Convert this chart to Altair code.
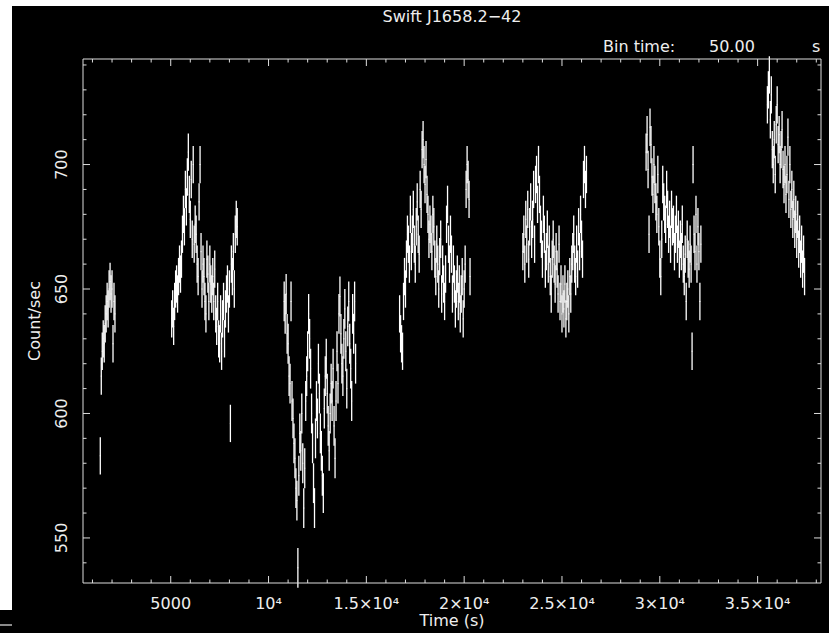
import altair as alt
import pandas as pd

BIN_TIME = 50
SEG_START = [1400, 5050, 10800, 16700, 23000, 29300, 35500]

SEG1 = [583, 615, 625, 630, 628, 636, 640, 645, 642, 650, 653, 648, 650, 628, 645, 640]
SEG2 = [638, 642, 635, 645, 650, 652, 648, 655, 660, 656, 662, 672, 680, 675, 690, 683, 695,
        705, 688, 678, 694, 670, 700, 668, 676, 672, 660, 655, 685, 700, 665, 650, 660, 655,
        645, 640, 662, 656, 645, 660, 652, 648, 655, 645, 658, 640, 635, 645, 630, 628, 640,
        625, 638, 645, 630, 642, 648, 652, 640, 650, 596, 660, 655, 665, 650, 672, 678, 675]
SEG3 = [645, 640, 648, 632, 628, 615, 612, 645, 605, 598, 588, 582, 570, 565, 538, 575, 592,
        585, 600, 580, 562, 578, 605, 615, 625, 640, 630, 618, 600, 588, 572, 562, 590, 605,
        598, 620, 608, 592, 585, 575, 568, 602, 615, 622, 608, 595, 585, 600, 612, 605, 618,
        595, 582, 605, 625, 612, 640, 647, 632, 620, 615, 630, 642, 625, 610, 635, 645, 628,
        618, 605, 640, 632, 645, 620]
SEG4 = [640, 632, 628, 625, 645, 655, 650, 662, 672, 668, 660, 680, 665, 672, 682, 668, 660,
        675, 685, 672, 664, 690, 682, 706, 710, 700, 692, 702, 688, 680, 670, 676, 672, 665,
        680, 675, 662, 655, 668, 660, 650, 663, 670, 648, 660, 652, 645, 656, 676, 684, 668,
        660, 672, 664, 648, 660, 652, 642, 650, 656, 645, 652, 640, 648, 655, 638, 650, 660,
        690, 700, 694, 686, 655]
SEG5 = [665, 672, 660, 678, 668, 682, 662, 675, 685, 670, 678, 690, 668, 692, 696, 684, 700,
        688, 676, 670, 662, 680, 672, 658, 665, 674, 660, 668, 655, 648, 662, 670, 660, 652,
        665, 658, 648, 668, 645, 652, 640, 648, 642, 652, 638, 645, 650, 640, 655, 648, 660,
        665, 672, 660, 655, 668, 658, 675, 665, 680, 670, 662, 694, 700, 690, 696]
SEG6 = [705, 712, 698, 672, 715, 708, 695, 688, 700, 692, 685, 680, 696, 675, 662, 655, 670,
        692, 685, 680, 676, 690, 682, 672, 678, 668, 682, 675, 676, 665, 672, 680, 668, 674,
        662, 670, 665, 676, 660, 655, 664, 645, 670, 662, 658, 668, 660, 625, 700, 672, 665,
        680, 660, 675, 665, 645, 668]
SEG7 = [724, 730, 736, 718, 728, 706, 700, 710, 696, 716, 724, 708, 712, 700, 706, 714, 698,
        692, 700, 688, 696, 711, 686, 700, 682, 690, 678, 686, 674, 680, 670, 678, 666, 672,
        662, 668, 658, 664, 655]
SEGMENTS = [SEG1, SEG2, SEG3, SEG4, SEG5, SEG6, SEG7]
SEG_ERR = [7.5, 7.5, 8.0, 7.5, 7.5, 7.5, 7.5]

X_MAJOR = [5000, 10000, 15000, 20000, 25000, 30000, 35000]
X_LABELS = ["5000", "10⁴", "1.5×10⁴", "2×10⁴", "2.5×10⁴", "3×10⁴", "3.5×10⁴"]
X_MINOR = [1000, 2000, 3000, 4000, 6000, 7000, 8000, 9000, 11000, 12000, 13000, 14000,
           16000, 17000, 18000, 19000, 21000, 22000, 23000, 24000, 26000, 27000, 28000,
           29000, 31000, 32000, 33000, 34000, 36000, 37000, 38000]
Y_MAJOR = [550, 600, 650, 700]
Y_LABELS = ["550", "600", "650", "700"]
Y_MINOR = [540, 560, 570, 580, 590, 610, 620, 630, 640, 660, 670, 680, 690, 710, 720, 730, 740]
X_DOMAIN = [516, 38240]
Y_DOMAIN = [531.9, 742.4]

TITLE = "Swift J1658.2\u221242"
X_TITLE = "Time (s)"
Y_TITLE = "Count/sec"

W, H = 738, 524
FONT = "DejaVu Sans"
FS = 16
TXT = "#eeeeee"
FRAME = "#dddddd"

rows = []
for start, vals, err in zip(SEG_START, SEGMENTS, SEG_ERR):
    for i, v in enumerate(vals):
        t = start + BIN_TIME * i
        rows.append({"t": t, "t0": t - BIN_TIME / 2, "t1": t + BIN_TIME / 2,
                     "v": v, "lo": v - err, "hi": v + err})
df = pd.DataFrame(rows)

xs = alt.Scale(domain=X_DOMAIN, nice=False, zero=False)
ys = alt.Scale(domain=Y_DOMAIN, nice=False, zero=False)

one = pd.DataFrame({"a": [0]})

# white page margin on the left and top of the screenshot, grey line bottom-left
wl = alt.Chart(one).mark_rect(color="white").encode(
    x=alt.value(-83), x2=alt.value(-71), y=alt.value(-59), y2=alt.value(551))
wt = alt.Chart(one).mark_rect(color="white").encode(
    x=alt.value(-83), x2=alt.value(W + 8), y=alt.value(-59), y2=alt.value(-53))
gl = alt.Chart(one).mark_rule(color="#8a8a8a", strokeWidth=2).encode(
    x=alt.value(-83), x2=alt.value(-71), y=alt.value(566))

err = alt.Chart(df).mark_rule(color="white", strokeWidth=1.3).encode(
    x=alt.X("t:Q", scale=xs, axis=None),
    y=alt.Y("lo:Q", scale=ys, axis=None),
    y2="hi:Q")
binw = alt.Chart(df).mark_rule(color="white", strokeWidth=1).encode(
    x=alt.X("t0:Q", scale=xs, axis=None), x2="t1:Q",
    y=alt.Y("v:Q", scale=ys, axis=None))

xmaj = pd.DataFrame({"t": X_MAJOR, "lab": X_LABELS})
xmin = pd.DataFrame({"t": X_MINOR})
ymaj = pd.DataFrame({"v": Y_MAJOR, "lab": Y_LABELS})
ymin = pd.DataFrame({"v": Y_MINOR})

MAJ, MIN = 7, 3.5


def xtick(d, y0, y1):
    return alt.Chart(d).mark_rule(color=FRAME, strokeWidth=1).encode(
        x=alt.X("t:Q", scale=xs, axis=None), y=alt.value(y0), y2=alt.value(y1))


def ytick(d, x0, x1):
    return alt.Chart(d).mark_rule(color=FRAME, strokeWidth=1).encode(
        y=alt.Y("v:Q", scale=ys, axis=None), x=alt.value(x0), x2=alt.value(x1))


ticks = [
    xtick(xmaj, H, H - MAJ), xtick(xmin, H, H - MIN),
    xtick(xmaj, 0, MAJ), xtick(xmin, 0, MIN),
    ytick(ymaj, 0, MAJ), ytick(ymin, 0, MIN),
    ytick(ymaj, W, W - MAJ), ytick(ymin, W, W - MIN),
]

xlabels = alt.Chart(xmaj).mark_text(font=FONT, fontSize=FS, color=TXT, align="center",
                                    baseline="middle").encode(
    x=alt.X("t:Q", scale=xs, axis=None), y=alt.value(H + 21), text="lab:N")
ylabels = alt.Chart(ymaj).mark_text(font=FONT, fontSize=FS, color=TXT, align="center",
                                    baseline="middle", angle=270).encode(
    y=alt.Y("v:Q", scale=ys, axis=None), x=alt.value(-21), text="lab:N")

frame = alt.Chart(one).mark_rect(filled=False, stroke=FRAME, strokeWidth=1).encode(
    x=alt.value(0), x2=alt.value(W), y=alt.value(0), y2=alt.value(H))


def label(text, x, y, align, angle=0):
    return alt.Chart(one).mark_text(text=text, font=FONT, fontSize=FS, color=TXT,
                                    align=align, baseline="middle", angle=angle).encode(
        x=alt.value(x), y=alt.value(y))


texts = [
    label(TITLE, W / 2, 17 - 59, "center"),
    label("Bin time:", 603 - 83, 47 - 59, "left"),
    label("50.00", 709 - 83, 47 - 59, "left"),
    label("s", 812 - 83, 47 - 59, "left"),
    label(X_TITLE, W / 2, H + 38, "center"),
    label(Y_TITLE, -48, H / 2, "center", 270),
]

chart = alt.layer(err, binw, wl, wt, gl, *ticks, xlabels, ylabels, frame, *texts).properties(
    width=W, height=H,
    padding={"left": 83, "top": 59, "right": 8, "bottom": 50},
    autosize=alt.AutoSizeParams(type="none"),
    background="black",
).configure_view(stroke=None)

chart.save("out.html", embed_options={"renderer": "svg", "actions": False})
